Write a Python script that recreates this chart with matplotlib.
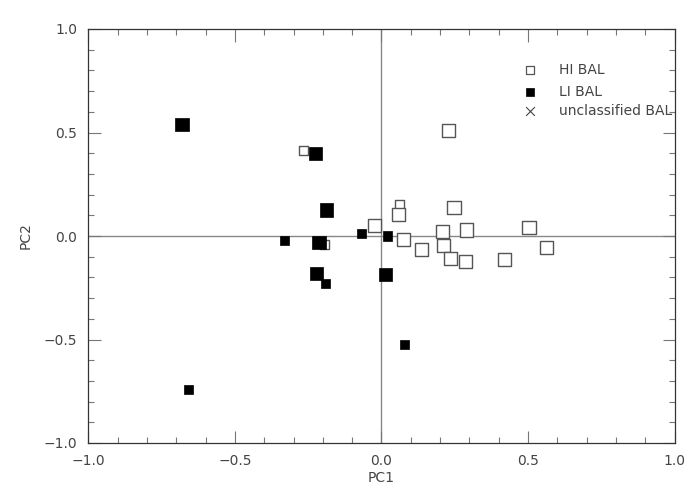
import numpy as np
import matplotlib.pyplot as plt
from matplotlib.ticker import MultipleLocator

# ── Data ──────────────────────────────────────────────────────────────────────

# HI BAL (open squares)
hi_pc1  = [-0.267, -0.196, -0.025, 0.061, 0.057, 0.075, 0.135, 0.229, 0.247,
           0.208, 0.212, 0.289, 0.235, 0.287, 0.420, 0.503, 0.562]
hi_pc2  = [0.414, -0.042, 0.050, 0.154, 0.102, -0.016, -0.066, 0.510, 0.139,
           0.021, -0.047, 0.029, -0.110, -0.125, -0.112, 0.040, -0.057]
hi_big  = [0, 0, 1, 0, 1, 1, 1, 1, 1, 1, 1, 1, 1, 1, 1, 1, 1]

# LI BAL (filled squares)
li_pc1  = [-0.680, -0.226, -0.188, -0.330, -0.213, -0.068, 0.022, -0.223,
           -0.192, 0.015, 0.079, -0.658]
li_pc2  = [0.540, 0.400, 0.126, -0.024, -0.030, 0.013, 0.000, -0.180,
           -0.230, -0.185, -0.524, -0.743]
li_big  = [1, 1, 1, 0, 1, 0, 0, 1, 0, 1, 0, 0]

# unclassified BAL (none visible)
un_pc1 = []
un_pc2 = []

legend_labels = ['HI BAL', 'LI BAL', 'unclassified BAL']
ticks = [-1.0, -0.5, 0.0, 0.5, 1.0]

BIG, SMALL = 90, 42   # marker areas (pt^2)
TXT = '#444444'

fig = plt.figure(figsize=(7, 5), dpi=100)
ax = fig.add_axes([0.126, 0.114, 0.838, 0.828])

ax.axhline(0, color='#888888', lw=1.0, zorder=1)
ax.axvline(0, color='#888888', lw=1.0, zorder=1)

s_hi = [BIG if b else SMALL for b in hi_big]
s_li = [BIG if b else SMALL for b in li_big]
ax.scatter(hi_pc1, hi_pc2, s=s_hi, marker='s', facecolor='white',
           edgecolor='#555555', lw=1.0, zorder=2)
ax.scatter(li_pc1, li_pc2, s=s_li, marker='s', facecolor='black',
           edgecolor='black', lw=0.5, zorder=3)
ax.scatter(un_pc1, un_pc2, s=SMALL, marker='x', color='#444444', zorder=3)

# legend drawn by hand, IDL style
leg_y = [0.80, 0.695, 0.605]
ax.scatter([0.507], [leg_y[0]], s=40, marker='s', facecolor='white',
           edgecolor='#555555', lw=0.9)
ax.scatter([0.507], [leg_y[1]], s=40, marker='s', facecolor='black',
           edgecolor='black', lw=0.5)
ax.scatter([0.507], [leg_y[2]], s=40, marker='x', color='#444444', lw=0.8)
for yy, lab in zip(leg_y, legend_labels):
    ax.text(0.605, yy, lab, color=TXT, fontsize=10, va='center', ha='left')

ax.set_xticks(ticks)
ax.set_yticks(ticks)
ax.set_xticklabels([f'{v:.1f}'.replace('-', '\u2212') for v in ticks])
ax.set_yticklabels([f'{v:.1f}'.replace('-', '\u2212') for v in ticks])
ax.xaxis.set_minor_locator(MultipleLocator(0.1))
ax.yaxis.set_minor_locator(MultipleLocator(0.1))
ax.set_xlim(-1, 1)
ax.set_ylim(-1, 1)
ax.tick_params(which='both', direction='in', top=True, right=True,
               colors='#777777', labelcolor=TXT, labelsize=10)
ax.tick_params(which='major', length=9, width=0.8, pad=8)
ax.tick_params(which='minor', length=4.5, width=0.8)
for sp in ax.spines.values():
    sp.set_color('#333333')
    sp.set_linewidth(0.9)

ax.set_xlabel('PC1', color=TXT, fontsize=10, labelpad=2)
ax.set_ylabel('PC2', color=TXT, fontsize=10, labelpad=8)

fig.savefig('out.png', dpi=100)
